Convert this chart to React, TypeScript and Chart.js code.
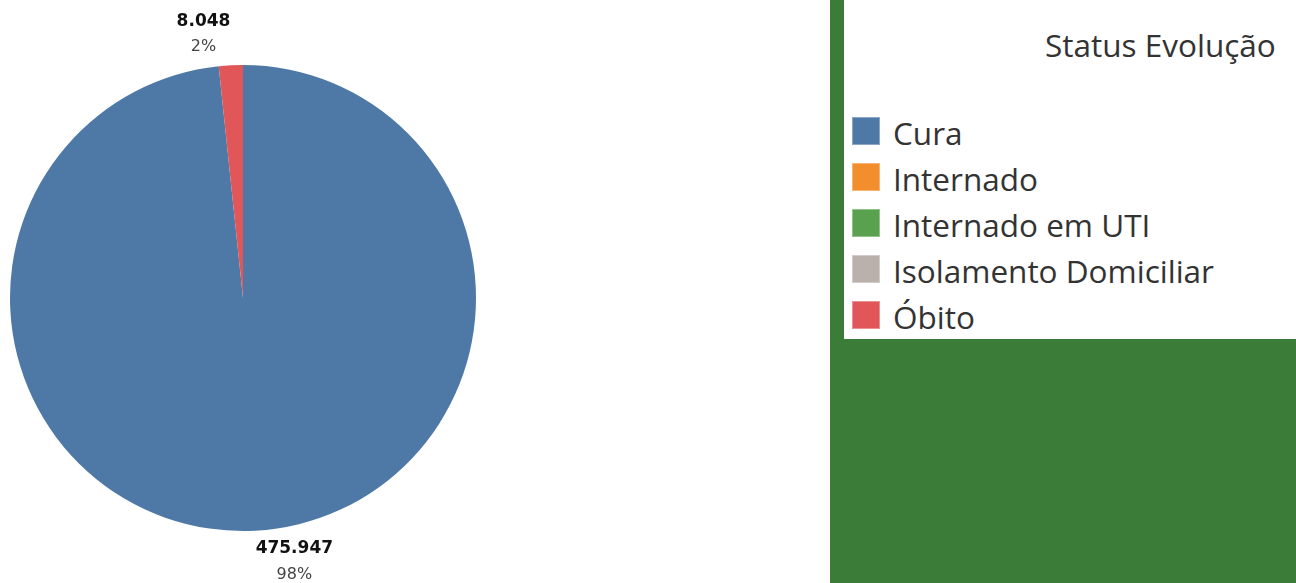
import React, { useEffect, useRef } from "react";
import { Chart, registerables } from "chart.js";

Chart.register(...registerables);

const categories = ["Cura", "Internado", "Internado em UTI", "Isolamento Domiciliar", "Óbito"];
const values = [475947, 0, 0, 0, 8048];
const colors = ["#4e79a7", "#f28e2b", "#59a14f", "#bab0ac", "#e15759"];
const legendTitle = "Status Evolução";

const PANEL_GREEN = "#3a7c38";
const LABEL_FONT = "'DejaVu Sans', Verdana, sans-serif";

function fmt(n: number): string {
  return String(Math.round(n)).replace(/\B(?=(\d{3})+(?!\d))/g, ".");
}

const labelPlugin = {
  id: "sliceLabels",
  afterDatasetsDraw(chart: any) {
    const ctx = chart.ctx;
    const meta = chart.getDatasetMeta(0);
    const data = chart.data.datasets[0].data as number[];
    const total = data.reduce((a, b) => a + b, 0);
    meta.data.forEach((arc: any, i: number) => {
      const v = data[i];
      if (!v) return;
      const p = arc.getProps(["x", "y", "startAngle", "endAngle", "outerRadius"], true);
      const mid = (p.startAngle + p.endAngle) / 2;
      const r = p.outerRadius + 9;
      const ax = p.x + Math.cos(mid) * r;
      const ay = p.y + Math.sin(mid) * r;
      const l1 = fmt(v);
      const l2 = Math.round((v / total) * 100) + "%";
      ctx.save();
      ctx.font = "bold 17px " + LABEL_FONT;
      const w1 = ctx.measureText(l1).width;
      ctx.font = "16px " + LABEL_FONT;
      const w2 = ctx.measureText(l2).width;
      const bw = Math.max(w1, w2);
      const left = Math.cos(mid) < 0 ? ax - bw : ax;
      const cx = left + bw / 2;
      const blockH = 44;
      const top = Math.sin(mid) < 0 ? ay - blockH : ay;
      ctx.textAlign = "center";
      ctx.textBaseline = "middle";
      ctx.fillStyle = "#111";
      ctx.font = "bold 17px " + LABEL_FONT;
      ctx.fillText(l1, cx, top + 9);
      ctx.fillStyle = "#444";
      ctx.font = "16px " + LABEL_FONT;
      ctx.fillText(l2, cx, top + 35);
      ctx.restore();
    });
  },
};

export default function App() {
  const ref = useRef<HTMLCanvasElement | null>(null);
  useEffect(() => {
    if (!ref.current) return;
    const chart = new Chart(ref.current, {
      type: "pie",
      data: {
        labels: categories,
        datasets: [
          {
            data: values,
            backgroundColor: colors,
            borderWidth: 0,
          },
        ],
      },
      options: {
        animation: false,
        responsive: false,
        layout: { padding: { left: 10, right: 10, top: 65, bottom: 52 } },
        plugins: {
          legend: { display: false },
          tooltip: { enabled: false },
        },
      },
      plugins: [labelPlugin],
    });
    return () => chart.destroy();
  }, []);

  const font = "'Open Sans', 'Noto Sans', sans-serif";
  const fs = 31.5;
  return (
    <div style={{ position: "absolute", left: 0, top: 0, width: 1296, height: 583, background: "#fff", overflow: "hidden" }}>
      <canvas ref={ref} width={486} height={583} style={{ position: "absolute", left: 0, top: 0 }} />
      <div style={{ position: "absolute", left: 830, top: 0, width: 466, height: 583, background: PANEL_GREEN }}>
        <div style={{ position: "absolute", left: 14, top: 0, width: 452, height: 339, background: "#fff" }}>
          <div
            style={{
              position: "absolute",
              left: 201,
              top: 25,
              fontFamily: font,
              fontSize: fs,
              lineHeight: "40px",
              color: "#333",
              whiteSpace: "nowrap",
            }}
          >
            {legendTitle}
          </div>
          {categories.map((c, i) => (
            <React.Fragment key={c}>
              <div
                style={{
                  position: "absolute",
                  left: 8,
                  top: 117 + i * 46,
                  width: 28,
                  height: 28,
                  background: colors[i],
                  boxSizing: "border-box",
                  border: "1px solid rgba(255,255,255,0.35)",
                }}
              />
              <div
                style={{
                  position: "absolute",
                  left: 49,
                  top: 113 + i * 46,
                  fontFamily: font,
                  fontSize: fs,
                  lineHeight: "40px",
                  color: "#333",
                  whiteSpace: "nowrap",
                }}
              >
                {c}
              </div>
            </React.Fragment>
          ))}
        </div>
      </div>
    </div>
  );
}
